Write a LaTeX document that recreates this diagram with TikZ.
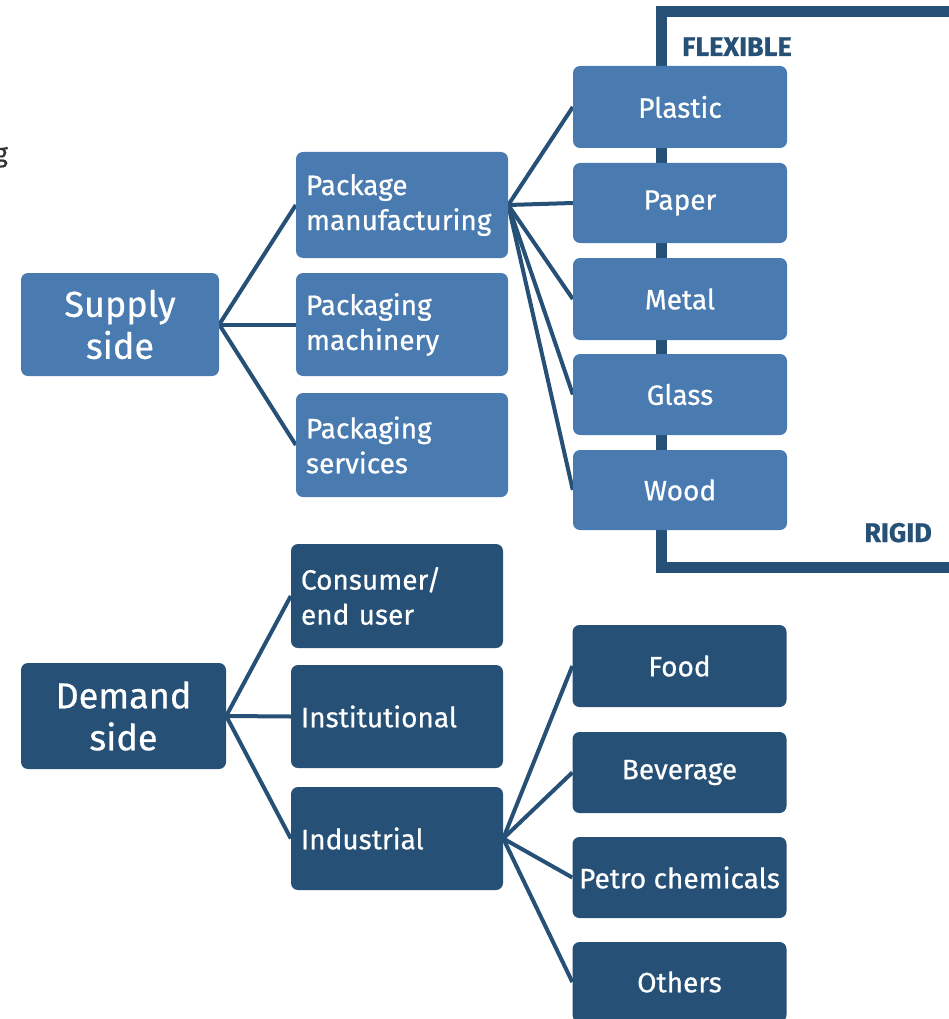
\documentclass[tikz,border=0pt]{standalone}
\usepackage{fontspec}
\setmainfont{Fira Sans}[FakeBold=0.6]
\usetikzlibrary{backgrounds}
\definecolor{lightb}{HTML}{4A7BB0}
\definecolor{darkb}{HTML}{265075}
\begin{document}
\begin{tikzpicture}[x=1pt,y=-1pt,
  box/.style={rounded corners=7pt, inner sep=0pt, text=white, font=\fontsize{28}{35}\selectfont},
  sbox/.style={box, fill=lightb},
  dbox/.style={box, fill=darkb},
  bigbox/.style={font=\fontsize{36}{42}\selectfont, align=center},
  leftbox/.style={align=left, inner xsep=10pt, text width=192pt},
  matbox/.style={align=center, minimum width=214pt},
  link/.style={draw=darkb, line width=4pt},
  frametext/.style={text=darkb, font=\bfseries\fontsize{27}{30}\selectfont, inner sep=0pt}]
\useasboundingbox (0,0) rectangle (949,1019);

% frame
\draw[darkb, line width=11pt] (661,12) rectangle (1000,567.5);
\node[frametext, anchor=base west] (flex) at (682,56) {FLEXIBLE};
\node[frametext, anchor=base east] (rigid) at (932,542) {RIGID};

% cut-off letter
\node[anchor=base east, inner sep=0pt, text=black!80, font=\fontsize{26}{30}\selectfont] (gfrag) at (8,162) {g};

% supply side
\node[sbox, bigbox, minimum width=198pt, minimum height=103pt] (supply) at (120,324.5) {Supply\\side};
\node[sbox, leftbox, minimum height=106pt] (pm) at (402,205) {Package\\manufacturing};
\node[sbox, leftbox, minimum height=103pt] (mach) at (402,324.5) {Packaging\\machinery};
\node[sbox, leftbox, minimum height=104pt] (serv) at (402,445) {Packaging\\services};
\node[sbox, matbox, minimum height=82pt] (plastic) at (680,107) {Plastic};
\node[sbox, matbox, minimum height=80pt] (paper) at (680,203) {Paper};
\node[sbox, matbox, minimum height=82pt] (metal) at (680,299) {Metal};
\node[sbox, matbox, minimum height=81pt] (glass) at (680,394.5) {Glass};
\node[sbox, matbox, minimum height=80pt] (wood) at (680,490) {Wood};

% demand side
\node[dbox, bigbox, minimum width=205pt, minimum height=106pt] (demand) at (123.5,716) {Demand\\side};
\node[dbox, leftbox, minimum height=104pt] (cons) at (397,596) {Consumer/\\end user};
\node[dbox, leftbox, minimum height=103pt] (inst) at (397,716.5) {Institutional};
\node[dbox, leftbox, minimum height=103pt] (ind) at (397,838.5) {Industrial};
\node[dbox, matbox, minimum height=82pt] (food) at (679.5,666) {Food};
\node[dbox, matbox, minimum height=81pt] (bev) at (679.5,772.5) {Beverage};
\node[dbox, matbox, minimum height=81pt] (petro) at (679.5,877.5) {Petro chemicals};
\node[dbox, matbox, minimum height=80pt] (others) at (679.5,982) {Others};

\begin{scope}[on background layer]
  \foreach \c in {pm,mach,serv} \draw[link] (supply.east) -- (\c.west);
  \foreach \c in {plastic,paper,metal,glass,wood} \draw[link] (pm.east) -- (\c.west);
  \foreach \c in {cons,inst,ind} \draw[link] (demand.east) -- (\c.west);
  \foreach \c in {food,bev,petro,others} \draw[link] (ind.east) -- (\c.west);
\end{scope}
\end{tikzpicture}
\end{document}
